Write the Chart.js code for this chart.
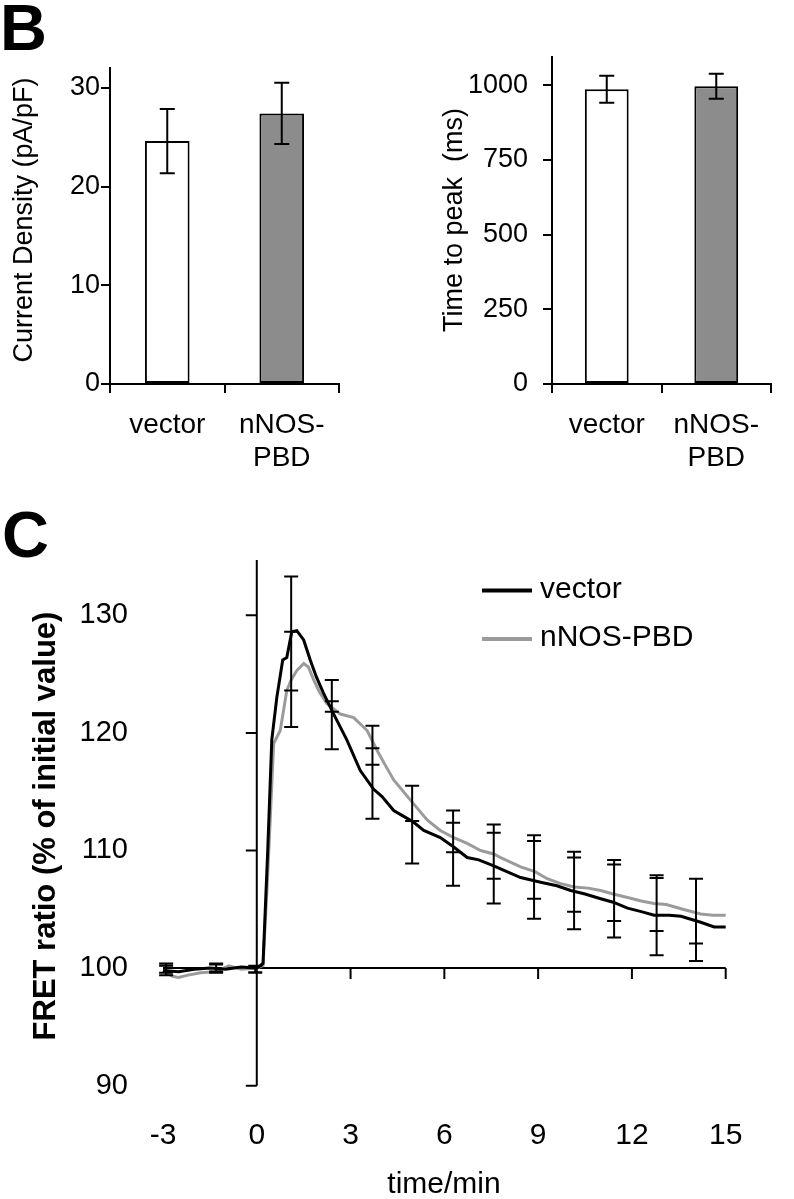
<!DOCTYPE html>
<html>
<head>
<meta charset="utf-8">
<script src="https://cdn.jsdelivr.net/npm/chart.js@4.4.1/dist/chart.umd.min.js"></script>
<style>
  html, body { margin: 0; padding: 0; background: #fff; }
  body { position: relative; width: 794px; height: 1199px; overflow: hidden; }
  canvas { position: absolute; }
  .panel { position: absolute; font: bold 65px/65px "Liberation Sans", Arial, sans-serif; color: #000; }
</style>
</head>
<body>
<div class="panel" style="left:0;top:-5px">B</div>
<div class="panel" style="left:2px;top:502px">C</div>
<canvas id="chart_1" width="397" height="480" style="left:0;top:0"></canvas>
<canvas id="chart_2" width="397" height="480" style="left:397px;top:0"></canvas>
<canvas id="chart_3" width="794" height="719" style="left:0;top:480px"></canvas>
<script>
// panel B
const groups = ["vector", ["nNOS-", "PBD"]];
const densityMean = [24.6, 27.4];
const densitySem = [3.25, 3.1];
const densityTicks = [0, 10, 20, 30];
const peakMean = [987, 997];
const peakSem = [45, 42];
const peakTicks = [0, 250, 500, 750, 1000];

// panel C, FRET ratio traces (time in min)
const vectorTime = [-3, -2.5, -2, -1.5, -1, -0.5, 0, 0.2, 0.35, 0.48, 0.64, 0.83, 0.96, 1.12, 1.28, 1.5, 1.71, 1.9, 2.13, 2.46, 2.88, 3.31, 3.74, 4.0, 4.38, 4.7, 5.02, 5.34, 5.87, 6.3, 6.73, 7.1, 7.58, 8.0, 8.44, 9.08, 9.6, 10.04, 10.5, 11.0, 11.4, 11.86, 12.3, 12.71, 13.2, 13.57, 14.2, 14.63, 15.0];
const vectorRatio = [99.8, 99.7, 99.9, 100.0, 99.9, 100.1, 100.0, 100.4, 110.0, 119.4, 123.0, 126.2, 126.4, 128.6, 128.7, 127.9, 126.2, 124.8, 123.4, 121.6, 119.4, 116.8, 115.2, 114.6, 113.4, 112.9, 112.4, 111.7, 111.1, 110.3, 109.4, 109.2, 108.7, 108.2, 107.7, 107.3, 107.0, 106.6, 106.3, 105.9, 105.6, 105.1, 104.8, 104.5, 104.5, 104.4, 103.9, 103.5, 103.5];
const nnosTime = [-3, -2.7, -2.5, -2.2, -1.8, -1.3, -0.9, -0.5, 0, 0.2, 0.35, 0.54, 0.75, 0.96, 1.1, 1.28, 1.5, 1.65, 1.82, 2.0, 2.24, 2.67, 3.1, 3.53, 3.85, 4.1, 4.38, 4.91, 5.45, 5.87, 6.3, 6.73, 7.16, 7.58, 7.8, 8.44, 8.9, 9.29, 9.7, 10.15, 10.6, 11.0, 11.4, 11.86, 12.3, 12.71, 13.1, 13.57, 14.2, 14.6, 15.0];
const nnosRatio = [99.8, 99.3, 99.2, 99.4, 99.6, 99.7, 100.2, 99.9, 100.0, 100.2, 108.0, 119.1, 120.2, 123.6, 124.5, 125.3, 125.9, 125.6, 124.5, 123.5, 122.5, 121.6, 121.3, 120.2, 118.5, 117.3, 116.0, 114.3, 112.6, 111.7, 111.1, 110.6, 110.0, 109.7, 109.4, 108.6, 108.2, 107.6, 107.2, 106.9, 106.8, 106.6, 106.3, 106.0, 105.7, 105.5, 105.4, 105.05, 104.6, 104.5, 104.5];
const timeTicks = [-3, 0, 3, 6, 9, 12, 15];
const fretTicks = [90, 100, 110, 120, 130];

// error bars (mean +/- sem) at the sampled times
const errTime = [-2.9, -1.3, -0.05, 1.1, 2.4, 3.7, 4.97, 6.28, 7.58, 8.87, 10.15, 11.43, 12.79, 14.05];
const vectorErrMean = [99.9, 100.0, 99.9, 128.45, 121.55, 115.7, 112.2, 110.2, 108.85, 107.75, 106.6, 105.9, 104.5, 104.1];
const vectorErrSem = [0.5, 0.4, 0.3, 4.85, 2.95, 3.0, 3.3, 3.2, 3.35, 3.55, 3.3, 3.3, 3.4, 3.5];
const nnosErrMean = [99.9, 100.0, 99.9, 124.55, 122.25, 118.95, 114.0, 111.1, 109.55, 108.35, 107.1, 106.4, 105.4, 104.85];
const nnosErrSem = [0.3, 0.3, 0.25, 4.05, 0.45, 1.65, 1.5, 1.25, 1.95, 2.45, 2.3, 2.4, 2.25, 2.75];

const FONT = '"Liberation Sans", Arial, sans-serif';
Chart.defaults.font.family = FONT;
Chart.defaults.color = "#000";

function fixedTicks(values) {
  return function (scale) {
    scale.ticks = values.map((v) => ({ value: v }));
  };
}
function plain(value) {
  return String(value);
}

// error bars on top of the bars
function barErrors(mean, sem) {
  return {
    id: "barErrors",
    afterDatasetsDraw(chart) {
      const ctx = chart.ctx;
      const y = chart.scales.y;
      const meta = chart.getDatasetMeta(0);
      ctx.save();
      ctx.strokeStyle = "#000";
      ctx.lineWidth = 2;
      ctx.beginPath();
      mean.forEach(function (m, i) {
        const x = meta.data[i].x;
        const y1 = y.getPixelForValue(m + sem[i]);
        const y2 = y.getPixelForValue(m - sem[i]);
        ctx.moveTo(x, y1);
        ctx.lineTo(x, y2);
        ctx.moveTo(x - 7.5, y1);
        ctx.lineTo(x + 7.5, y1);
        ctx.moveTo(x - 7.5, y2);
        ctx.lineTo(x + 7.5, y2);
      });
      ctx.stroke();
      ctx.restore();
    },
  };
}

// free-placed axis titles
function axisTitles(items) {
  return {
    id: "axisTitles",
    afterDraw(chart) {
      const ctx = chart.ctx;
      items.forEach(function (t) {
        ctx.save();
        ctx.translate(t.x, t.y);
        if (t.rotate) ctx.rotate(-Math.PI / 2);
        ctx.font = t.font;
        ctx.fillStyle = "#000";
        ctx.textAlign = "center";
        ctx.textBaseline = "middle";
        ctx.fillText(t.text, 0, 0);
        ctx.restore();
      });
    },
  };
}

function barOptions(yMax, ticks, yTickPad, padding, yWidth) {
  return {
    responsive: false,
    animation: false,
    events: [],
    layout: { padding: padding },
    plugins: { legend: { display: false }, tooltip: { enabled: false } },
    scales: {
      x: {
        grid: { offset: true, drawOnChartArea: false, tickLength: 9, color: "#000", lineWidth: 2 },
        border: { display: true, color: "#000", width: 2 },
        ticks: { padding: 15, font: { size: 28 }, color: "#000", maxRotation: 0, autoSkip: false },
        afterFit: function (s) { s.height = 96; },
      },
      y: {
        min: 0,
        max: yMax,
        ticks: { padding: yTickPad, font: { size: 27 }, color: "#000", callback: plain },
        grid: { drawOnChartArea: false, tickLength: 9, color: "#000", lineWidth: 2 },
        border: { display: true, color: "#000", width: 2 },
        afterBuildTicks: fixedTicks(ticks),
        afterFit: function (s) { s.width = yWidth; },
      },
    },
  };
}

const ctx1 = document.getElementById("chart_1").getContext("2d");
new Chart(ctx1, {
  type: "bar",
  data: {
    labels: groups,
    datasets: [{
      data: densityMean,
      backgroundColor: ["#ffffff", "#8c8c8c"],
      borderColor: "#000",
      borderWidth: 2,
      borderSkipped: false,
      barPercentage: 0.39,
      categoryPercentage: 1,
    }],
  },
  options: barOptions(32, densityTicks, 1, { top: 68, right: 58, left: 0, bottom: 0 }, 110),
  plugins: [
    barErrors(densityMean, densitySem),
    axisTitles([{ text: "Current Density (pA/pF)", x: 24.5, y: 220, rotate: true, font: "27px " + FONT }]),
  ],
});

const ctx2 = document.getElementById("chart_2").getContext("2d");
new Chart(ctx2, {
  type: "bar",
  data: {
    labels: groups,
    datasets: [{
      data: peakMean,
      backgroundColor: ["#ffffff", "#8c8c8c"],
      borderColor: "#000",
      borderWidth: 2,
      borderSkipped: false,
      barPercentage: 0.4,
      categoryPercentage: 1,
    }],
  },
  options: barOptions(1095, peakTicks, 15, { top: 57, right: 23, left: 0, bottom: 0 }, 155),
  plugins: [
    barErrors(peakMean, peakSem),
    axisTitles([{ text: "Time to peak  (ms)", x: 58, y: 220, rotate: true, font: "27px " + FONT }]),
  ],
});

// axes crossing at (0, 100), error bars and legend for panel C
const fretDecor = {
  id: "fretDecor",
  beforeDatasetsDraw(chart) {
    const { ctx, scales: { x, y } } = chart;
    const x0 = x.getPixelForValue(0);
    const y100 = y.getPixelForValue(100);
    ctx.save();
    ctx.strokeStyle = "#000";
    ctx.lineWidth = 2;
    ctx.beginPath();
    ctx.moveTo(x0, y.getPixelForValue(y.max));
    ctx.lineTo(x0, y.getPixelForValue(90));
    ctx.moveTo(x.getPixelForValue(-3), y100);
    ctx.lineTo(x.getPixelForValue(15), y100);
    y.ticks.forEach(function (t) {
      const p = y.getPixelForValue(t.value);
      ctx.moveTo(x0 - 11, p);
      ctx.lineTo(x0, p);
    });
    x.ticks.forEach(function (t) {
      if (t.value <= 0) return;
      const p = x.getPixelForValue(t.value);
      ctx.moveTo(p, y100);
      ctx.lineTo(p, y100 + 11);
    });
    ctx.stroke();
    ctx.restore();
  },
  afterDatasetsDraw(chart) {
    const { ctx, scales: { x, y } } = chart;
    ctx.save();
    ctx.strokeStyle = "#000";
    ctx.lineWidth = 2;
    ctx.beginPath();
    function bar(t, m, s) {
      const px = x.getPixelForValue(t);
      const y1 = y.getPixelForValue(m + s);
      const y2 = y.getPixelForValue(m - s);
      ctx.moveTo(px, y1);
      ctx.lineTo(px, y2);
      ctx.moveTo(px - 7, y1);
      ctx.lineTo(px + 7, y1);
      ctx.moveTo(px - 7, y2);
      ctx.lineTo(px + 7, y2);
    }
    errTime.forEach(function (t, i) {
      bar(t, vectorErrMean[i], vectorErrSem[i]);
      bar(t, nnosErrMean[i], nnosErrSem[i]);
    });
    ctx.stroke();

    // legend
    const items = chart.data.datasets;
    ctx.font = "30px " + FONT;
    ctx.textBaseline = "middle";
    ctx.textAlign = "left";
    ctx.fillStyle = "#000";
    items.forEach(function (ds, i) {
      const ly = 110.5 + i * 48.5;
      ctx.strokeStyle = ds.borderColor;
      ctx.lineWidth = 4;
      ctx.beginPath();
      ctx.moveTo(482, ly);
      ctx.lineTo(532, ly);
      ctx.stroke();
      ctx.fillText(ds.label, 540, ly - 1);
    });
    ctx.restore();
  },
};

const ctx3 = document.getElementById("chart_3").getContext("2d");
new Chart(ctx3, {
  type: "line",
  data: {
    datasets: [
      {
        label: "vector",
        data: vectorTime.map((t, i) => ({ x: t, y: vectorRatio[i] })),
        borderColor: "#000000",
        borderWidth: 3,
        pointRadius: 0,
        tension: 0,
        fill: false,
        clip: false,
      },
      {
        label: "nNOS-PBD",
        data: nnosTime.map((t, i) => ({ x: t, y: nnosRatio[i] })),
        borderColor: "#9b9b9b",
        borderWidth: 3,
        pointRadius: 0,
        tension: 0,
        fill: false,
        clip: false,
      },
    ],
  },
  options: {
    responsive: false,
    animation: false,
    events: [],
    layout: { padding: { left: 0, top: 80, right: 68.3, bottom: 0 } },
    plugins: { legend: { display: false }, tooltip: { enabled: false } },
    scales: {
      x: {
        type: "linear",
        min: -3,
        max: 15,
        ticks: { padding: 24, font: { size: 30 }, color: "#000", maxRotation: 0, callback: plain },
        grid: { display: false },
        border: { display: false },
        afterBuildTicks: fixedTicks(timeTicks),
        afterFit: function (s) { s.height = 113.3; },
      },
      y: {
        min: 90,
        max: 134.7,
        ticks: { padding: 27, font: { size: 29 }, color: "#000", callback: plain },
        grid: { display: false },
        border: { display: false },
        afterBuildTicks: fixedTicks(fretTicks),
        afterFit: function (s) { s.width = 163; },
      },
    },
  },
  plugins: [
    fretDecor,
    axisTitles([
      { text: "FRET ratio (% of initial value)", x: 46, y: 346, rotate: true, font: "bold 31px " + FONT },
      { text: "time/min", x: 444, y: 705, rotate: false, font: "30px " + FONT },
    ]),
  ],
});
</script>
</body>
</html>
